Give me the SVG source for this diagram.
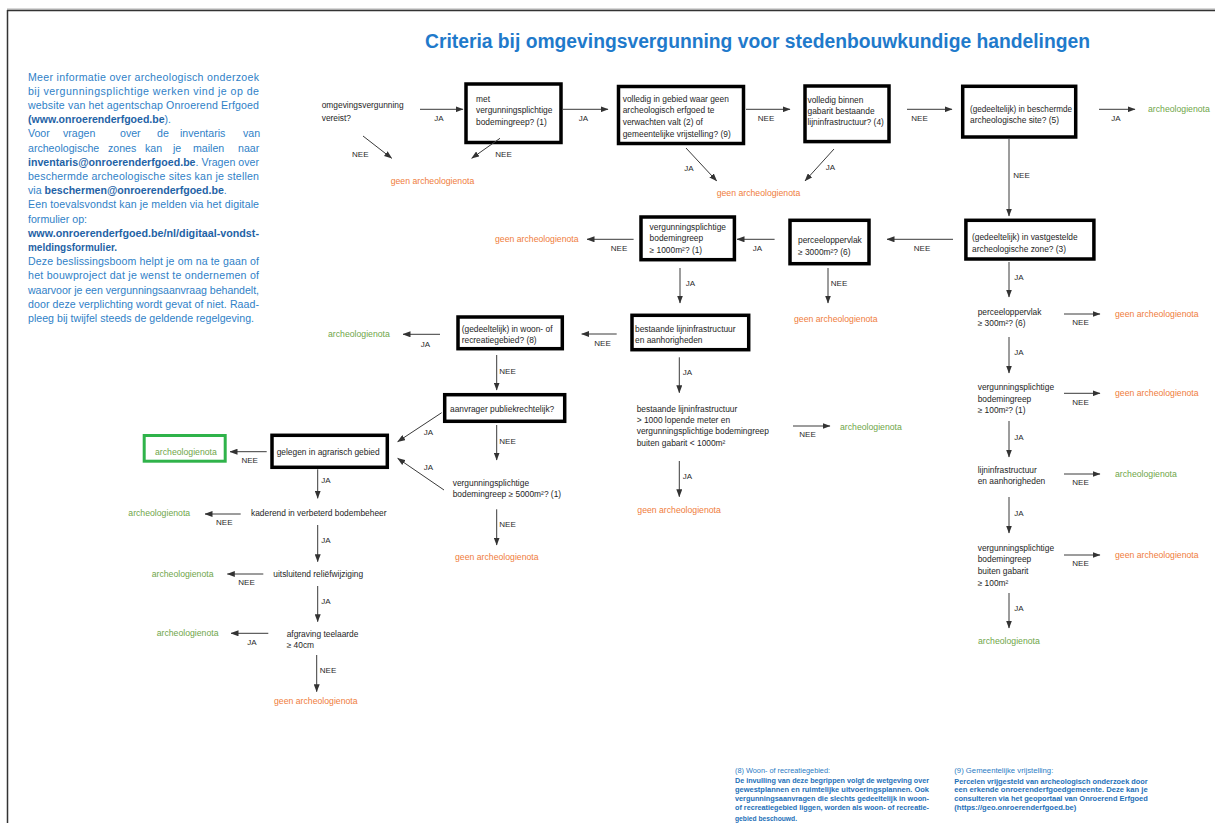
<svg xmlns="http://www.w3.org/2000/svg" width="1215" height="823" viewBox="0 0 1215 823">
<defs>
<marker id="ah" markerWidth="8" markerHeight="6" refX="7.5" refY="3" orient="auto" markerUnits="userSpaceOnUse"><path d="M0,0 L8,3 L0,6 z" fill="#333"/></marker>
<style>
text{font-family:"Liberation Sans",Arial,sans-serif}
.t{font-size:8.4px;fill:#1e1e1e}
.l{font-size:8px;fill:#2a2a2a;text-anchor:middle}
.o{font-size:8.7px;fill:#ef7d3c}
.g{font-size:8.7px;fill:#6fa64a}
.b{fill:#fff;stroke:#000;stroke-width:3.5}
.c line{stroke:#3a3a3a;stroke-width:1;marker-end:url(#ah)}
.p{font-size:10.6px;fill:#2f81c7}
.pb{font-weight:bold;fill:#1f63a6}
.f{font-size:6.9px;fill:#2a7bc4}
.fb{font-weight:bold;fill:#236fb8}
</style>
</defs>
<rect x="0" y="0" width="1215" height="823" fill="#fff"/>
<g id="frame">
<line x1="7" y1="9" x2="1215" y2="9" stroke="#b0b0b0" stroke-width="1"/>
<line x1="7" y1="10.5" x2="1215" y2="10.5" stroke="#333" stroke-width="1.5"/>
<line x1="7.5" y1="10" x2="7.5" y2="823" stroke="#333" stroke-width="1.5"/>
</g>
<text id="title" x="425" y="48" font-size="20" font-weight="bold" fill="#1f7acb" textLength="665" lengthAdjust="spacingAndGlyphs">Criteria bij omgevingsvergunning voor stedenbouwkundige handelingen</text>

<g id="info">
<text class="p" x="28" y="80.5" textLength="231" lengthAdjust="spacing">Meer informatie over archeologisch onderzoek</text>
<text class="p" x="28" y="94.7" textLength="231" lengthAdjust="spacing">bij vergunningsplichtige werken vind je op de</text>
<text class="p" x="28" y="108.9" textLength="231" lengthAdjust="spacing">website van het agentschap Onroerend Erfgoed</text>
<text class="p" x="28" y="123.1" textLength="143" lengthAdjust="spacingAndGlyphs"><tspan class="pb">(www.onroerenderfgoed.be</tspan>).</text>
<text class="p" y="137.3"><tspan x="28">Voor</tspan><tspan x="63">vragen</tspan><tspan x="120">over</tspan><tspan x="157">de</tspan><tspan x="180">inventaris</tspan><tspan x="243">van</tspan></text>
<text class="p" y="151.5"><tspan x="28">archeologische</tspan><tspan x="108">zones</tspan><tspan x="145">kan</tspan><tspan x="173">je</tspan><tspan x="193">mailen</tspan><tspan x="238">naar</tspan></text>
<text class="p" x="28" y="165.7" textLength="231" lengthAdjust="spacing"><tspan class="pb">inventaris@onroerenderfgoed.be</tspan>. Vragen over</text>
<text class="p" x="28" y="179.9" textLength="231" lengthAdjust="spacing">beschermde archeologische sites kan je stellen</text>
<text class="p" x="28" y="194.1">via <tspan class="pb">beschermen@onroerenderfgoed.be</tspan>.</text>
<text class="p" x="28" y="208.3" textLength="231" lengthAdjust="spacing">Een toevalsvondst kan je melden via het digitale</text>
<text class="p" x="28" y="222.5" textLength="59" lengthAdjust="spacingAndGlyphs">formulier op:</text>
<text class="p pb" x="28" y="236.7" textLength="231" lengthAdjust="spacingAndGlyphs">www.onroerenderfgoed.be/nl/digitaal-vondst-</text>
<text class="p pb" x="28" y="250.9" textLength="89" lengthAdjust="spacingAndGlyphs">meldingsformulier.</text>
<text class="p" x="28" y="265.1" textLength="231" lengthAdjust="spacing">Deze beslissingsboom helpt je om na te gaan of</text>
<text class="p" x="28" y="279.3" textLength="231" lengthAdjust="spacing">het bouwproject dat je wenst te ondernemen of</text>
<text class="p" x="28" y="293.5" textLength="231" lengthAdjust="spacing">waarvoor je een vergunningsaanvraag behandelt,</text>
<text class="p" x="28" y="307.7" textLength="231" lengthAdjust="spacing">door deze verplichting wordt gevat of niet. Raad-</text>
<text class="p" x="28" y="321.9" textLength="226" lengthAdjust="spacing">pleeg bij twijfel steeds de geldende regelgeving.</text>
</g>

<g id="n-omgevingsvergunning"><text class="t" x="321.7" y="108"><tspan x="321.7">omgevingsvergunning</tspan><tspan x="321.7" dy="12.7">vereist?</tspan></text></g>
<g id="n-met"><rect class="b" x="466" y="84" width="95" height="58.5"/><text class="t" y="101.5"><tspan x="476">met</tspan><tspan x="476" dy="11.7">vergunningsplichtige</tspan><tspan x="476" dy="11.7">bodemingreep? (1)</tspan></text></g>
<g id="n-volledig"><rect class="b" x="618.5" y="86.5" width="125" height="57"/><text class="t" y="101.5"><tspan x="622.7">volledig in gebied waar geen</tspan><tspan x="622.7" dy="11.7">archeologisch erfgoed te</tspan><tspan x="622.7" dy="11.7">verwachten valt (2) of</tspan><tspan x="622.7" dy="11.7">gemeentelijke vrijstelling? (9)</tspan></text></g>
<g id="n-gabarit"><rect class="b" x="805" y="86" width="84" height="55.6"/><text class="t" y="102.5"><tspan x="807.5">volledig binnen</tspan><tspan x="807.5" dy="11">gabarit bestaande</tspan><tspan x="807.5" dy="11">lijninfrastructuur? (4)</tspan></text></g>
<g id="n-beschermd"><rect class="b" x="962.7" y="86.3" width="113" height="50.7" stroke-width="4"/><text class="t" y="111.5"><tspan x="970" textLength="102" lengthAdjust="spacingAndGlyphs">(gedeeltelijk) in beschermde</tspan><tspan x="970" dy="11">archeologische site? (5)</tspan></text></g>
<g id="n-zone"><rect class="b" x="965.9" y="220.3" width="128" height="38.7"/><text class="t" y="240"><tspan x="972">(gedeeltelijk) in vastgestelde</tspan><tspan x="972" dy="12">archeologische zone? (3)</tspan></text></g>
<g id="n-perceel3000"><rect class="b" x="790" y="220.3" width="79" height="43.4"/><text class="t" y="242.5"><tspan x="798">perceeloppervlak</tspan><tspan x="798" dy="12.2">≥ 3000m²? (6)</tspan></text></g>
<g id="n-verg1000"><rect class="b" x="641" y="217" width="93.4" height="42.7"/><text class="t" y="230"><tspan x="649.6">vergunningsplichtige</tspan><tspan x="649.6" dy="11.3">bodemingreep</tspan><tspan x="649.6" dy="11.4">≥ 1000m²? (1)</tspan></text></g>
<g id="n-lijninfra"><rect class="b" x="632" y="315.3" width="116.7" height="34.4"/><text class="t" y="331.5"><tspan x="635">bestaande lijninfrastructuur</tspan><tspan x="635" dy="11.7">en aanhorigheden</tspan></text></g>
<g id="n-woon"><rect class="b" x="458" y="317" width="104.3" height="31.7"/><text class="t" y="331.5"><tspan x="461.7">(gedeeltelijk) in woon- of</tspan><tspan x="461.7" dy="11.7">recreatiegebied? (8)</tspan></text></g>
<g id="n-aanvrager"><rect class="b" x="444.7" y="394.7" width="120" height="26.6"/><text class="t" x="450" y="411.5">aanvrager publiekrechtelijk?</text></g>
<g id="n-verg5000"><text class="t" y="486"><tspan x="452.7">vergunningsplichtige</tspan><tspan x="452.7" dy="11">bodemingreep ≥ 5000m²? (1)</tspan></text></g>
<g id="n-bestaande"><text class="t" y="411.5"><tspan x="636.7">bestaande lijninfrastructuur</tspan><tspan x="636.7" dy="11.3">&gt; 1000 lopende meter en</tspan><tspan x="636.7" dy="11.5">vergunningsplichtige bodemingreep</tspan><tspan x="636.7" dy="11.7">buiten gabarit &lt; 1000m²</tspan></text></g>
<g id="n-agrarisch"><rect class="b" x="272" y="435.3" width="115.3" height="32"/><text class="t" x="276.7" y="455">gelegen in agrarisch gebied</text></g>
<g id="n-green"><rect x="144.2" y="435.5" width="81" height="25.7" fill="#fff" stroke="#2fb34a" stroke-width="3"/><text class="g" x="155" y="455">archeologienota</text></g>
<g id="n-kaderend"><text class="t" x="251" y="516">kaderend in verbeterd bodembeheer</text></g>
<g id="n-uitsluitend"><text class="t" x="273.3" y="577.3">uitsluitend reliëfwijziging</text></g>
<g id="n-afgraving"><text class="t" y="636.6"><tspan x="286.7">afgraving teelaarde</tspan><tspan x="286.7" dy="11.7">≥ 40cm</tspan></text></g>
<g id="n-perceel300"><text class="t" y="315"><tspan x="977.7">perceeloppervlak</tspan><tspan x="977.7" dy="11">≥ 300m²? (6)</tspan></text></g>
<g id="n-verg100"><text class="t" y="390"><tspan x="977.7">vergunningsplichtige</tspan><tspan x="977.7" dy="11.7">bodemingreep</tspan><tspan x="977.7" dy="11.7">≥ 100m²? (1)</tspan></text></g>
<g id="n-lijninfra2"><text class="t" y="472.6"><tspan x="977.7">lijninfrastructuur</tspan><tspan x="977.7" dy="11.7">en aanhorigheden</tspan></text></g>
<g id="n-buitengabarit"><text class="t" y="550.6"><tspan x="977.7">vergunningsplichtige</tspan><tspan x="977.7" dy="11.7">bodemingreep</tspan><tspan x="977.7" dy="11.7">buiten gabarit</tspan><tspan x="977.7" dy="11.7">≥ 100m²</tspan></text></g>

<g id="outcomes">
<text id="e1" class="o" x="390.7" y="184">geen archeologienota</text>
<text id="e2" class="o" x="716.7" y="195.5">geen archeologienota</text>
<text id="e3" class="g" x="1148" y="111.5">archeologienota</text>
<text id="e4" class="o" x="495" y="241.5">geen archeologienota</text>
<text id="e5" class="o" x="794" y="321.5">geen archeologienota</text>
<text id="e6" class="o" x="1115" y="316.5">geen archeologienota</text>
<text id="e7" class="o" x="1115" y="396">geen archeologienota</text>
<text id="e8" class="g" x="1115" y="477">archeologienota</text>
<text id="e9" class="o" x="1115" y="558">geen archeologienota</text>
<text id="e10" class="g" x="978" y="644">archeologienota</text>
<text id="e11" class="g" x="328" y="337">archeologienota</text>
<text id="e12" class="o" x="455" y="560">geen archeologienota</text>
<text id="e13" class="o" x="637.3" y="512.5">geen archeologienota</text>
<text id="e14" class="g" x="840" y="429.5">archeologienota</text>
<text id="e15" class="g" x="128.3" y="516">archeologienota</text>
<text id="e16" class="g" x="151.7" y="576.5">archeologienota</text>
<text id="e17" class="g" x="156.7" y="636">archeologienota</text>
<text id="e18" class="o" x="274" y="704">geen archeologienota</text>
</g>

<g id="connectors" class="c">
<line x1="420" y1="109.3" x2="463" y2="109.3"/>
<line x1="563" y1="109.3" x2="608" y2="109.3"/>
<line x1="746" y1="109.3" x2="790" y2="109.3"/>
<line x1="907" y1="109.3" x2="952" y2="109.3"/>
<line x1="1099" y1="109.3" x2="1135" y2="109.3"/>
<line x1="363" y1="136" x2="391.7" y2="158.3"/>
<line x1="500" y1="138.3" x2="471.7" y2="158.3"/>
<line x1="686" y1="148" x2="716.7" y2="181"/>
<line x1="834" y1="149" x2="805" y2="181"/>
<line x1="1009" y1="139" x2="1009" y2="216"/>
<line x1="953" y1="239.3" x2="887" y2="239.3"/>
<line x1="774.6" y1="239.3" x2="737" y2="239.3"/>
<line x1="633.6" y1="239.3" x2="587" y2="239.3"/>
<line x1="680" y1="268" x2="680" y2="303"/>
<line x1="828" y1="268" x2="828" y2="303"/>
<line x1="1009" y1="262" x2="1009" y2="297"/>
<line x1="1064" y1="314" x2="1100" y2="314"/>
<line x1="1009" y1="337" x2="1009" y2="373"/>
<line x1="1064" y1="393.3" x2="1100" y2="393.3"/>
<line x1="1009" y1="421" x2="1009" y2="457"/>
<line x1="1064" y1="474" x2="1100" y2="474"/>
<line x1="1009" y1="497" x2="1009" y2="533"/>
<line x1="1064" y1="555" x2="1100" y2="555"/>
<line x1="1009" y1="593" x2="1009" y2="628"/>
<line x1="616.7" y1="334" x2="581.7" y2="334"/>
<line x1="440" y1="334.3" x2="403" y2="334.3"/>
<line x1="496.7" y1="355" x2="496.7" y2="390"/>
<line x1="441.7" y1="412.7" x2="397.7" y2="441.7"/>
<line x1="444" y1="490" x2="397.7" y2="458.3"/>
<line x1="496.7" y1="425" x2="496.7" y2="460"/>
<line x1="496.7" y1="509.3" x2="496.7" y2="545"/>
<line x1="679.3" y1="357.3" x2="679.3" y2="392.7"/>
<line x1="679.3" y1="461" x2="679.3" y2="496.7"/>
<line x1="793" y1="426" x2="830" y2="426"/>
<line x1="266.7" y1="451.7" x2="230" y2="451.7"/>
<line x1="317.7" y1="469.3" x2="317.7" y2="498.3"/>
<line x1="240.7" y1="514" x2="205" y2="514"/>
<line x1="317.7" y1="525" x2="317.7" y2="561.7"/>
<line x1="263.3" y1="574" x2="227.3" y2="574"/>
<line x1="317.7" y1="586" x2="317.7" y2="621.7"/>
<line x1="268.3" y1="633.3" x2="231" y2="633.3"/>
<line x1="316.7" y1="655" x2="316.7" y2="691.7"/>
<text class="l" x="439" y="121">JA</text>
<text class="l" x="583.5" y="120.7">JA</text>
<text class="l" x="766" y="120.7">NEE</text>
<text class="l" x="919.5" y="120.7">NEE</text>
<text class="l" x="1116" y="120.7">JA</text>
<text class="l" x="360.3" y="157">NEE</text>
<text class="l" x="503.5" y="157">NEE</text>
<text class="l" x="688.8" y="170.7">JA</text>
<text class="l" x="830.3" y="169.7">JA</text>
<text class="l" x="1021.5" y="178">NEE</text>
<text class="l" x="922" y="251.3">NEE</text>
<text class="l" x="757.5" y="251.3">JA</text>
<text class="l" x="619" y="251.3">NEE</text>
<text class="l" x="690.5" y="285.7">JA</text>
<text class="l" x="839" y="285.7">NEE</text>
<text class="l" x="1019" y="279.7">JA</text>
<text class="l" x="1080.5" y="324.7">NEE</text>
<text class="l" x="1019" y="355">JA</text>
<text class="l" x="1080.5" y="404.7">NEE</text>
<text class="l" x="1019" y="439.7">JA</text>
<text class="l" x="1080.5" y="485.3">NEE</text>
<text class="l" x="1019" y="515.7">JA</text>
<text class="l" x="1080.5" y="566.3">NEE</text>
<text class="l" x="1019" y="611.3">JA</text>
<text class="l" x="602.5" y="345.7">NEE</text>
<text class="l" x="425.3" y="347.3">JA</text>
<text class="l" x="507.5" y="374">NEE</text>
<text class="l" x="428.3" y="434.7">JA</text>
<text class="l" x="428.5" y="469.7">JA</text>
<text class="l" x="507.5" y="443.7">NEE</text>
<text class="l" x="507.5" y="527">NEE</text>
<text class="l" x="687.5" y="375.3">JA</text>
<text class="l" x="687.5" y="479">JA</text>
<text class="l" x="807.5" y="436.5">NEE</text>
<text class="l" x="249.7" y="463">NEE</text>
<text class="l" x="325.8" y="483">JA</text>
<text class="l" x="224.3" y="524.7">NEE</text>
<text class="l" x="325.8" y="543">JA</text>
<text class="l" x="246.5" y="585.3">NEE</text>
<text class="l" x="325.8" y="604">JA</text>
<text class="l" x="252" y="644.7">JA</text>
<text class="l" x="328" y="673">NEE</text>
</g>

<g id="footnotes">
<text class="f" x="735" y="772.5" textLength="95" lengthAdjust="spacingAndGlyphs">(8) Woon- of recreatiegebied:</text>
<text class="f fb" x="735" y="782.5" textLength="194" lengthAdjust="spacingAndGlyphs">De invulling van deze begrippen volgt de wetgeving over</text>
<text class="f fb" x="735" y="791.8" textLength="194" lengthAdjust="spacingAndGlyphs">gewestplannen en ruimtelijke uitvoeringsplannen. Ook</text>
<text class="f fb" x="735" y="801" textLength="194" lengthAdjust="spacingAndGlyphs">vergunningsaanvragen die slechts gedeeltelijk in woon-</text>
<text class="f fb" x="735" y="810.3" textLength="194" lengthAdjust="spacingAndGlyphs">of recreatiegebied liggen, worden als woon- of recreatie-</text>
<text class="f fb" x="735" y="820.5" textLength="62" lengthAdjust="spacingAndGlyphs">gebied beschouwd.</text>
<text class="f" x="954.3" y="772.5" textLength="99" lengthAdjust="spacingAndGlyphs">(9) Gemeentelijke vrijstelling:</text>
<text class="f fb" x="954.3" y="783.5" textLength="193.4" lengthAdjust="spacingAndGlyphs">Percelen vrijgesteld van archeologisch onderzoek door</text>
<text class="f fb" x="954.3" y="791.8" textLength="193.4" lengthAdjust="spacingAndGlyphs">een erkende onroerenderfgoedgemeente. Deze kan je</text>
<text class="f fb" x="954.3" y="801" textLength="193.4" lengthAdjust="spacingAndGlyphs">consulteren via het geoportaal van Onroerend Erfgoed</text>
<text class="f fb" x="954.3" y="810.3" textLength="122" lengthAdjust="spacingAndGlyphs">(https://geo.onroerenderfgoed.be)</text>
</g>
</svg>
